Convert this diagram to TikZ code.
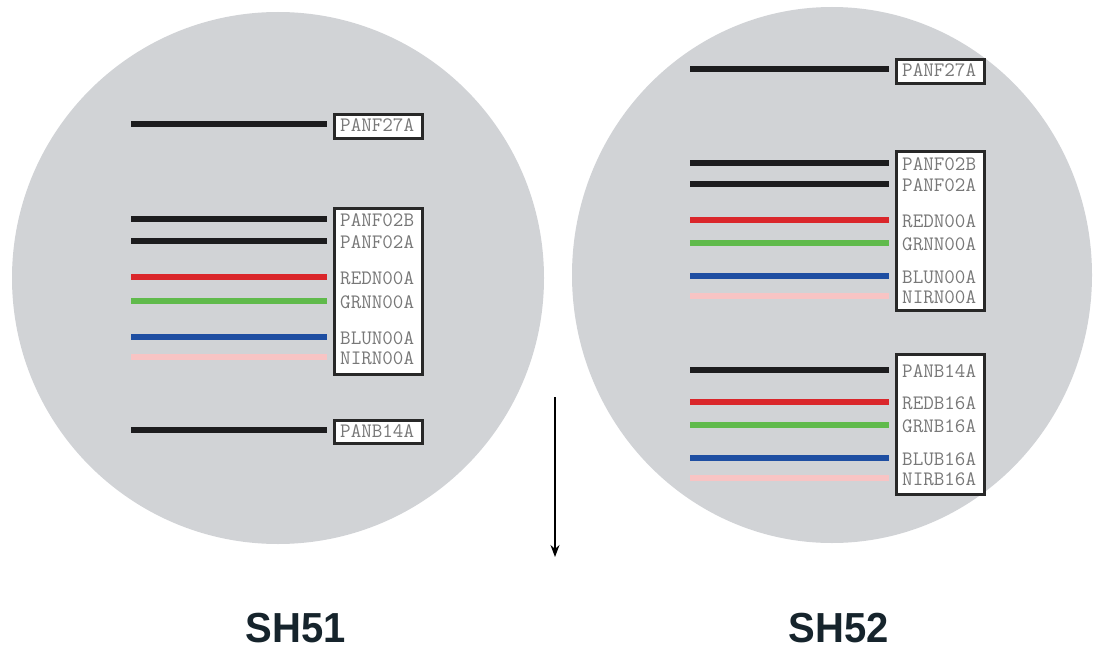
\documentclass[tikz,border=0pt]{standalone}
\usepackage{fontspec}
\setmainfont{Liberation Sans}
\usetikzlibrary{arrows.meta}
\definecolor{disc}{RGB}{209,211,214}
\definecolor{bandblack}{RGB}{28,28,30}
\definecolor{bandred}{RGB}{218,38,43}
\definecolor{bandgreen}{RGB}{96,186,76}
\definecolor{bandblue}{RGB}{30,78,162}
\definecolor{bandnir}{RGB}{248,196,196}
\definecolor{boxedge}{RGB}{40,40,40}
\definecolor{labgray}{RGB}{120,120,120}
\definecolor{titlecol}{RGB}{22,36,44}
\tikzset{
  band/.style={line width=5.5pt, shorten >=6pt},
  bandbox/.style={draw=boxedge, line width=2.6pt, fill=white, inner sep=0pt,
                  minimum width=88pt, anchor=north west},
  bandlabel/.style={anchor=west, inner sep=0pt, text=labgray,
                    font=\ttfamily\fontsize{20.5}{22}\selectfont},
  title/.style={font=\bfseries\fontsize{40}{44}\selectfont, text=titlecol,
                inner sep=0pt, yscale=1.05}
}
\begin{document}
\begin{tikzpicture}[x=1pt,y=-1pt]
\useasboundingbox (0,0) rectangle (1096,661);

% the two discs
\fill[disc] (278,278) circle[radius=266];
\fill[disc] (832,275) ellipse[x radius=260, y radius=268];

% ---------- SH51 ----------
\node[bandbox, minimum height=24pt] (l1) at (333,113) {};
\node[bandbox, minimum height=166pt] (l2) at (333,207) {};
\node[bandbox, minimum height=23pt] (l3) at (333,419) {};

\foreach \name/\y/\col in {PANF27A/124/bandblack,
    PANF02B/219/bandblack, PANF02A/241/bandblack,
    REDN00A/277/bandred, GRNN00A/301/bandgreen,
    BLUN00A/337/bandblue, NIRN00A/357/bandnir,
    PANB14A/430/bandblack}{
  \coordinate (ls-\name) at (131,\y);
  \node[bandlabel] (lt-\name) at (340,\y+1) {\name};
  \draw[band, draw=\col] (ls-\name) -- (ls-\name -| l1.west);
}

% ---------- SH52 ----------
\node[bandbox, minimum height=24pt] (r1) at (895,58) {};
\node[bandbox, minimum height=159pt] (r2) at (895,150) {};
\node[bandbox, minimum height=140pt] (r3) at (895,353) {};

\foreach \name/\y/\col in {PANF27A/69/bandblack,
    PANF02B/163/bandblack, PANF02A/184/bandblack,
    REDN00A/220/bandred, GRNN00A/243/bandgreen,
    BLUN00A/276/bandblue, NIRN00A/296/bandnir,
    PANB14A/370/bandblack, REDB16A/402/bandred,
    GRNB16A/425/bandgreen, BLUB16A/458/bandblue,
    NIRB16A/478/bandnir}{
  \coordinate (rs-\name) at (690,\y);
  \node[bandlabel] (rt-\name) at (902,\y+1) {\name};
  \draw[band, draw=\col] (rs-\name) -- (rs-\name -| r1.west);
}

% arrow between the discs
\coordinate (a0) at (555,397);
\coordinate (a1) at (555,557);
\draw[line width=1.2pt, -{Stealth[length=12pt,width=9pt]}] (a0) -- (a1);

% titles
\node[title] (t1) at (296,628) {SH51};
\node[title] (t2) at (839,628) {SH52};
\end{tikzpicture}
\end{document}
